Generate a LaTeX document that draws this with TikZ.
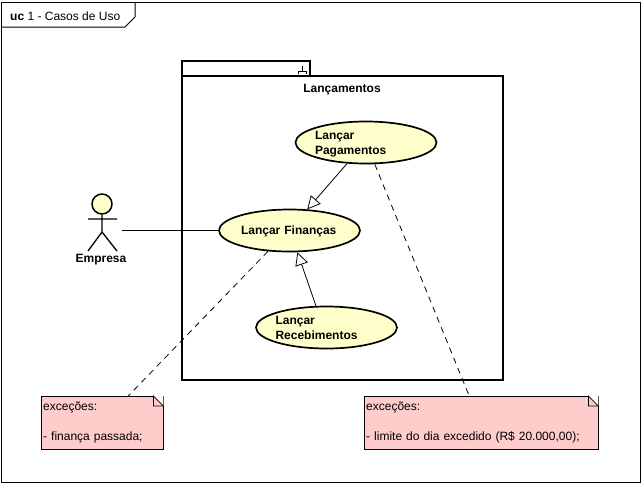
\documentclass[tikz,border=0pt]{standalone}
\usepackage{fontspec}
\setmainfont{Liberation Sans}
\usetikzlibrary{arrows.meta,shapes.geometric}
\definecolor{casoFill}{HTML}{FFFFCC}
\definecolor{notaFill}{HTML}{FFCCCC}
\tikzset{
    caso/.style={ellipse,draw,line width=1.7pt,fill=casoFill,minimum width=141pt,minimum height=42pt,inner sep=0pt,text width=102pt,inner xsep=-6pt,align=left,text depth=15pt,font=\fontsize{12}{15}\selectfont\bfseries},
    nota/.style={rectangle,draw,fill=notaFill,minimum height=53pt,inner sep=2pt,align=left,anchor=north west,font=\fontsize{12}{15}\selectfont},
    heranca/.style={-{Triangle[open,fill=white,length=13pt,width=13pt]},line width=0.8pt},
    ligaNota/.style={line width=0.8pt,dash pattern=on 6pt off 5pt}
}
\begin{document}
\begin{tikzpicture}[x=1pt,y=-1pt]
    \useasboundingbox (0,0) rectangle (644,485);
    % moldura
    \draw[line width=1pt] (1,2) rectangle (640,482);
    \draw[line width=1pt] (1,27) -- (125,27) -- (135,17) -- (135,2);
    \node[anchor=west,inner sep=0pt,font=\fontsize{12}{14}\selectfont] (titulo) at (10,16) {\textbf{uc} 1 - Casos de Uso};
    % pacote
    \draw[line width=2pt] (182,61) rectangle (310,76);
    \draw[line width=2pt] (182,76) rectangle (503,380);
    \draw[line width=0.8pt] (298,73.5) -- (298,71) -- (306,71) -- (306,73.5);
    \draw[line width=0.8pt] (302,66) -- (302,71);
    \node[font=\fontsize{12}{14}\selectfont\bfseries] (pacote) at (342,89.5) {Lançamentos};
    % casos de uso
    \node[caso] (pagamentos) at (366,142.5) {Lançar\\Pagamentos};
    \node[caso,text width=97pt,text depth=0pt] (financas) at (289.5,230.5) {Lançar Finanças};
    \node[caso] (recebimentos) at (326.5,327.5) {Lançar\\Recebimentos};
    % ator
    \node[circle,draw,line width=1.5pt,fill=casoFill,minimum size=20pt,inner sep=0pt] (cabeca) at (102,204) {};
    \coordinate (quadril) at (102,232);
    \coordinate (bracoE) at (88,219);
    \coordinate (bracoD) at (117,219);
    \coordinate (peE) at (88,251);
    \coordinate (peD) at (117,251);
    \coordinate (mao) at (122,230.5);
    \draw[line width=1.3pt] (cabeca) -- (quadril) (bracoE) -- (bracoD) (peE) -- (quadril) -- (peD);
    \node[font=\fontsize{12}{14}\selectfont\bfseries] (empresa) at (101,259.5) {Empresa};
    % notas
    \node[nota,text width=118pt] (notaFinanca) at (41,396) {exceções:\\[15pt]- finança passada;};
    \node[nota,text width=230pt] (notaLimite) at (364,396) {exceções:\\[15pt]- limite do dia excedido (R\$ 20.000,00);};
    \foreach \n in {notaFinanca,notaLimite}
    {%
        \fill[white] ([xshift=-10pt]\n.north east) -- (\n.north east) -- ([yshift=-10pt]\n.north east) -- cycle;
        \draw[line width=0.8pt,fill=notaFill] ([xshift=-10pt]\n.north east) -- ([yshift=-10pt]\n.north east) -- ([xshift=-10pt,yshift=-10pt]\n.north east) -- cycle;
        \draw[line width=0.8pt] (\n.north west) -- ([xshift=-10pt]\n.north east);
        \draw[line width=0.8pt] (\n.south east) -- ([yshift=-10pt]\n.north east);
    }%
    % ligacoes
    \draw[line width=0.9pt] (mao) -- (financas);
    \draw[heranca] (pagamentos.228) -- (financas.50);
    \draw[heranca] (recebimentos.116) -- (financas.290);
    \draw[ligaNota] (financas.224) -- ([xshift=26pt]notaFinanca.north);
    \draw[ligaNota] (pagamentos.292) -- ([xshift=-12pt]notaLimite.north);
\end{tikzpicture}
\end{document}
